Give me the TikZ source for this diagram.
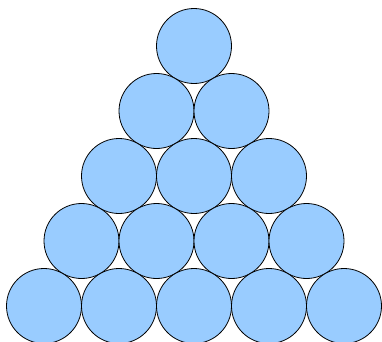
\documentclass[tikz,border=0pt]{standalone}
\usepackage{tikz}
\definecolor{ballBlue}{HTML}{99CCFF}

\begin{document}
\begin{tikzpicture}[
  x=1pt,y=1pt,
  ball/.style={circle,draw=black,line width=0.8pt,fill=ballBlue,minimum size=75pt,inner sep=0pt}
]
\useasboundingbox (0,0) rectangle (382,341);
\foreach \r in {0,...,4} {
  \foreach \i in {0,...,\r} {
    \node[ball] (ball-\r-\i) at ({194+(\i-\r/2)*75},{295-65*\r}) {};
  }
}
\end{tikzpicture}
\end{document}
